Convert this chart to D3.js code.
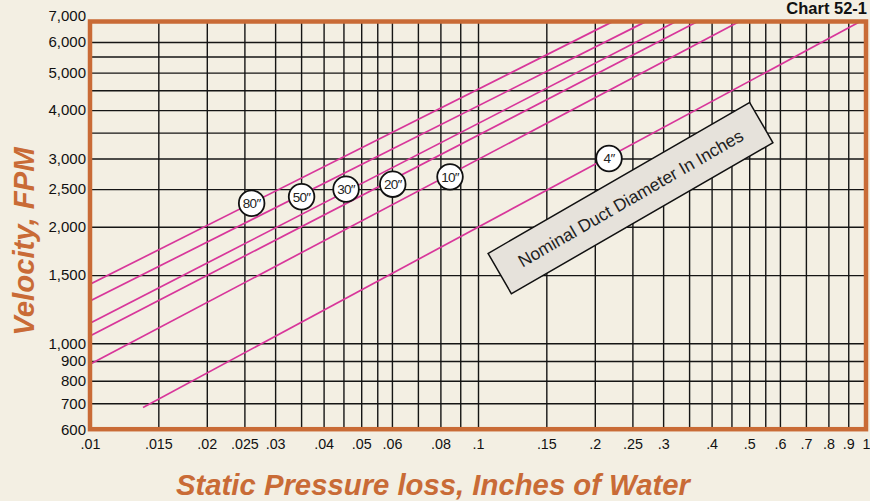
<!DOCTYPE html>
<html><head><meta charset="utf-8">
<script src="https://cdn.jsdelivr.net/npm/d3@7"></script>
<style>
html,body{margin:0;padding:0;background:#f3efe3;}
svg{display:block;}
text{font-family:"Liberation Sans",Arial,Helvetica,sans-serif;}
</style></head><body>
<svg id="chart" width="870" height="501"></svg>
<script>
// ---- data ----
const xGrid = [0.015,0.02,0.025,0.03,0.035,0.04,0.045,0.05,0.055,0.06,0.07,0.08,0.09,0.1,0.15,0.2,0.25,0.3,0.35,0.4,0.45,0.5,0.55,0.6,0.7,0.8,0.9];
const yGrid = [700,800,900,1000,1500,2000,2500,3000,3500,4000,4500,5000,5500,6000];
const xTickValues = [0.01,0.015,0.02,0.025,0.03,0.04,0.05,0.06,0.08,0.1,0.15,0.2,0.25,0.3,0.4,0.5,0.6,0.7,0.8,0.9,1];
const xTickLabels = [".01",".015",".02",".025",".03",".04",".05",".06",".08",".1",".15",".2",".25",".3",".4",".5",".6",".7",".8",".9","1"];
const yTickValues = [600,700,800,900,1000,1500,2000,2500,3000,4000,5000,6000,7000];
const yTickLabels = ["600","700","800","900","1,000","1,500","2,000","2,500","3,000","4,000","5,000","6,000","7,000"];

const diameters    = ["80″","50″","30″","20″","10″","4″"];
const startPressure = [0.01, 0.01, 0.01, 0.01, 0.01, 0.0137];
const startVelocity = [1420, 1286, 1126, 1044, 883, 683];
const endPressure   = [0.221, 0.269, 0.322, 0.366, 0.469, 0.961];
const endVelocity   = [6750, 6750, 6750, 6750, 6750, 6750];
const labelPressure = [0.0261, 0.0351, 0.0457, 0.0603, 0.0847, 0.2176];
const labelVelocity = [2299, 2390, 2500, 2575, 2690, 3000];

const noteText = "Nominal Duct Diameter In Inches";
const notePressure = 0.2472, noteVelocity = 2371;

const chartTitle = "Chart 52-1";
const xTitle = "Static Pressure loss, Inches of Water";
const yTitle = "Velocity, FPM";

// ---- layout ----
const L = 90, R = 866, T = 21.5, B = 429.2;
const orange = "#c96b36", pink = "#d8369a";

const svg = d3.select("#chart");
svg.append("rect").attr("width",870).attr("height",501).attr("fill","#f3efe3");

const x = d3.scaleLog().domain([0.01, 1]).range([L, R]);
const y = d3.scaleLog().domain([600, 7000]).range([B, 16.0]);

// grid via axes
svg.append("g").attr("transform",`translate(0,${B})`)
  .call(d3.axisBottom(x).tickValues(xGrid).tickSize(-(B-T)).tickFormat(""))
  .call(g=>g.select(".domain").remove())
  .call(g=>g.selectAll("line").attr("stroke","#151515").attr("stroke-width",1.4));
svg.append("g").attr("transform",`translate(${L},0)`)
  .call(d3.axisLeft(y).tickValues(yGrid).tickSize(-(R-L)).tickFormat(""))
  .call(g=>g.select(".domain").remove())
  .call(g=>g.selectAll("line").attr("stroke","#151515").attr("stroke-width",1.4));

// clip
svg.append("clipPath").attr("id","plotclip").append("rect")
  .attr("x",L).attr("y",T).attr("width",R-L).attr("height",B-T);

// lines
const lineGen = d3.line().x(d=>x(d[0])).y(d=>y(d[1]));
const series = diameters.map((d,i)=>({name:d, pts:[[startPressure[i],startVelocity[i]],[endPressure[i],endVelocity[i]]]}));
svg.append("g").attr("clip-path","url(#plotclip)")
  .selectAll("path").data(series).join("path")
  .attr("d",s=>lineGen(s.pts)).attr("fill","none")
  .attr("stroke",pink).attr("stroke-width",1.7);

// border
svg.append("rect").attr("x",L).attr("y",T).attr("width",R-L).attr("height",B-T)
  .attr("fill","none").attr("stroke",orange).attr("stroke-width",4.5);

// tick labels
const xAx = svg.append("g").attr("transform",`translate(0,${B})`)
  .call(d3.axisBottom(x).tickValues(xTickValues).tickSize(0).tickPadding(0)
    .tickFormat((d,i)=>xTickLabels[i]));
xAx.select(".domain").remove();
xAx.selectAll("text").attr("y",20.3).attr("dy",null).attr("font-size",14.3)
  .attr("font-family","'Liberation Sans',Arial,sans-serif").attr("fill","#111");

const yAx = svg.append("g").attr("transform",`translate(${L},0)`)
  .call(d3.axisLeft(y).tickValues(yTickValues).tickSize(0).tickPadding(4)
    .tickFormat((d,i)=>yTickLabels[i]));
yAx.select(".domain").remove();
yAx.selectAll("text").attr("font-size",15)
  .attr("font-family","'Liberation Sans',Arial,sans-serif").attr("fill","#111");

// diameter labels
const lab = svg.append("g").selectAll("g").data(diameters).join("g")
  .attr("transform",(d,i)=>`translate(${x(labelPressure[i])},${y(labelVelocity[i])})`);
lab.append("circle").attr("r",12.8).attr("fill","#fff").attr("stroke","#111").attr("stroke-width",1.8);
lab.append("text").text(d=>d).attr("text-anchor","middle").attr("dy","0.36em")
  .attr("font-size",13.5).attr("letter-spacing",-0.7).attr("fill","#222");

// note box
const note = svg.append("g")
  .attr("transform",`translate(${x(notePressure)},${y(noteVelocity)}) rotate(-30)`);
note.append("rect").attr("x",-151).attr("y",-23.3).attr("width",302).attr("height",46.6)
  .attr("fill","#e6e2db").attr("stroke","#111").attr("stroke-width",1.5);
note.append("text").text(noteText).attr("text-anchor","middle").attr("dy","0.36em")
  .attr("font-size",17.5).attr("fill","#222");

// titles
svg.append("text").text(chartTitle).attr("x",867).attr("y",13.5).attr("text-anchor","end")
  .attr("font-size",16.5).attr("font-weight","bold").attr("fill","#111");
svg.append("text").text(xTitle).attr("x",433).attr("y",495).attr("text-anchor","middle")
  .attr("font-size",29.3).attr("font-weight","bold").attr("font-style","italic").attr("fill",orange);
svg.append("text").text(yTitle).attr("transform","translate(33.5,241.5) rotate(-90)")
  .attr("text-anchor","middle")
  .attr("font-size",29.3).attr("font-weight","bold").attr("font-style","italic").attr("fill",orange);
</script>
</body></html>
